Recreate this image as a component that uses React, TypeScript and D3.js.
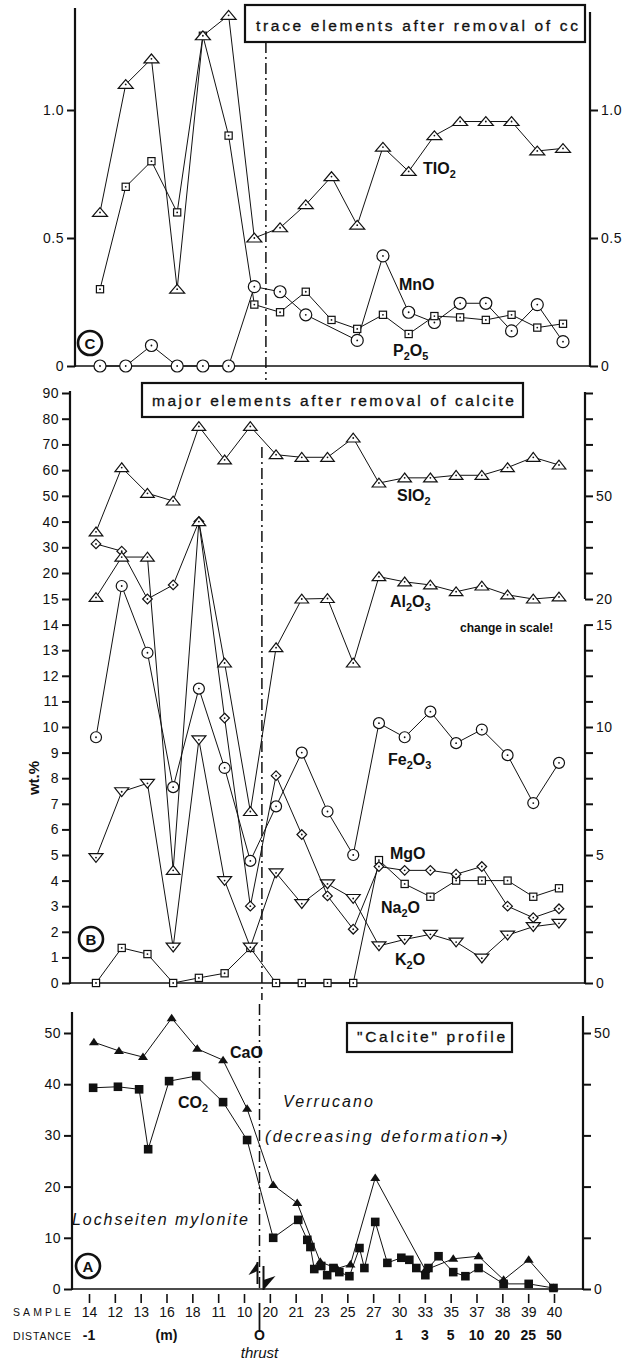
import React, { useEffect, useRef } from "react";
import * as d3 from "d3";

const W = 630;
const H = 1364;
const FONT = "'Liberation Sans', Arial, Helvetica, sans-serif";

// sample numbers along the profile, same order in all three panels
const samples = ["14", "12", "13", "16", "18", "11", "10", "20", "21", "23", "25", "27", "30", "33", "35", "37", "38", "39", "40"];
const samplePos = d3.range(samples.length);
const distanceLabels = ["-1", "(m)", "O", "1", "3", "5", "10", "20", "25", "50"];
const distancePos = [0, 3, 6.6, 12, 13, 14, 15, 16, 17, 18];
const thrustPos = 6.45;

// C: trace elements after removal of cc (wt.%)
const tio2 = [0.6, 1.1, 1.2, 0.3, 1.29, 1.37, 0.5, 0.54, 0.63, 0.74, 0.55, 0.855, 0.76, 0.9, 0.955, 0.955, 0.955, 0.84, 0.85];
const p2o5 = [0.3, 0.7, 0.8, 0.6, 1.29, 0.9, 0.24, 0.21, 0.29, 0.18, 0.145, 0.2, 0.125, 0.195, 0.19, 0.18, 0.2, 0.15, 0.165];
const mno = [0, 0, 0.08, 0, 0, 0, 0.31, 0.29, 0.2, null, 0.1, 0.43, 0.21, 0.17, 0.245, 0.245, 0.137, 0.24, 0.095];
const ticksC = [0, 0.5, 1];

// B: major elements after removal of calcite (wt.%, left-axis units)
const sio2 = [36, 61, 51, 48, 77, 64, 77, 66, 65, 65, 72.5, 55, 57, 57, 58, 58, 61, 65, 62];
const al2o3 = [15.3, 26.2, 26.2, 4.4, 40, 12.5, 6.7, 13.1, 15, 15.1, 12.5, 19.3, 18.3, 17.7, 16.4, 17.5, 15.8, 15, 15.4];
const fe2o3 = [9.6, 17.5, 12.9, 7.65, 11.5, 8.4, 4.77, 6.9, 9.0, 6.7, 5.0, 10.15, 9.6, 10.6, 9.37, 9.9, 8.9, 7.03, 8.6];
const na2o = [31.3, 28.5, 15, 17.7, 40, 10.35, 3.0, 8.1, 5.8, 3.4, 2.1, 4.55, 4.4, 4.4, 4.25, 4.55, 3.0, 2.55, 2.9];
const mgo = [0, 1.37, 1.13, 0, 0.2, 0.38, 1.37, 0, 0, 0, 0, 4.8, 3.87, 3.37, 4.0, 4.0, 4.0, 3.37, 3.7];
const k2o = [4.9, 7.47, 7.8, 1.4, 9.5, 4.0, 1.4, 4.3, 3.1, 3.87, 3.3, 1.45, 1.7, 1.9, 1.6, 0.97, 1.87, 2.2, 2.33];
const ticksB = [0, 1, 2, 3, 4, 5, 6, 7, 8, 9, 10, 11, 12, 13, 14, 15, 20, 30, 40, 50, 60, 70, 80, 90];
const rightLabelsB: Record<number, string> = { 50: "50", 15: "20", 14: "15", 10: "10", 5: "5", 0: "0" };

// A: "calcite" profile, more samples than ticks
const caoPos = [0.19, 1.16, 2.09, 3.2, 4.19, 5.19, 6.12, 7.13, 8.06, 8.95, 9.6, 10.12, 11.08, 13.02, 14.1, 15.08, 16.05, 17.02, 17.98];
const cao = [48.2, 46.5, 45.3, 52.9, 46.9, 44.7, 35.2, 20.3, 16.8, 5.3, 4.0, 4.8, 21.7, 3.7, 5.9, 6.4, 1.8, 5.7, 0.2];
const co2Pos = [0.16, 1.12, 1.94, 2.29, 3.1, 4.15, 5.19, 6.12, 7.13, 8.1, 8.45, 8.57, 8.72, 8.99, 9.22, 9.46, 9.69, 10.08, 10.47, 10.66, 11.08, 11.55, 12.09, 12.4, 12.67, 13.02, 13.14, 13.53, 14.1, 14.57, 15.08, 16.05, 17.02, 17.98];
const co2 = [39.3, 39.5, 39.0, 27.3, 40.6, 41.6, 36.5, 29.1, 10.0, 13.5, 9.6, 8.2, 3.9, 4.5, 2.7, 4.1, 3.3, 2.5, 8.0, 4.1, 13.1, 5.1, 6.1, 5.7, 4.1, 2.7, 4.1, 6.4, 3.3, 2.5, 4.1, 1.0, 1.0, 0.2];
const ticksA = [0, 10, 20, 30, 40, 50];

const ink = "#111";

export default function App() {
  const svgRef = useRef<SVGSVGElement>(null);

  useEffect(() => {
    if (!svgRef.current) return;
    const svg = d3.select(svgRef.current);
    svg.selectAll("*").remove();
    svg.append("rect").attr("width", W).attr("height", H).attr("fill", "#fff");

    const path = (g: any, d: string, w = 1, dash?: string) => {
      const p = g.append("path").attr("d", d).attr("fill", "none").attr("stroke", ink).attr("stroke-width", w);
      if (dash) p.attr("stroke-dasharray", dash);
      return p;
    };

    const marker = (g: any, kind: string, cx: number, cy: number) => {
      const m = g.append("g").attr("transform", `translate(${cx},${cy})`);
      const st = (s: any) => s.attr("fill", "#fff").attr("stroke", ink).attr("stroke-width", 1.2);
      if (kind === "fTri") { m.append("path").attr("d", "M0,-4.5L-5,3L5,3Z").attr("fill", ink); return; }
      if (kind === "fSq") { m.append("rect").attr("x", -4.3).attr("y", -4.3).attr("width", 8.6).attr("height", 8.6).attr("fill", ink); return; }
      if (kind === "tri") st(m.append("path").attr("d", "M0,-4.8L-7.5,4L7.5,4Z"));
      else if (kind === "triB") st(m.append("path").attr("d", "M0,-4.8L-6.8,4L6.8,4Z"));
      else if (kind === "triDown") st(m.append("path").attr("d", "M0,4.8L-7,-4L7,-4Z"));
      else if (kind === "sq") st(m.append("rect").attr("x", -3.6).attr("y", -3.6).attr("width", 7.2).attr("height", 7.2));
      else if (kind === "circ") st(m.append("circle").attr("r", 6));
      else if (kind === "circB") st(m.append("circle").attr("r", 5.5));
      else if (kind === "dia") st(m.append("path").attr("d", "M0,-4.8L4.8,0L0,4.8L-4.8,0Z"));
      m.append("circle").attr("r", 0.9).attr("fill", ink);
    };

    type S = { pos: number[]; vals: (number | null)[]; kind: string };
    const drawSeries = (g: any, x: any, y: any, list: S[]) => {
      const ln = d3.line<[number, number]>().x(d => x(d[0])).y(d => y(d[1]));
      const pts = list.map(s =>
        s.pos.map((p, i) => [p, s.vals[i]] as [number, number | null]).filter(d => d[1] != null) as [number, number][]
      );
      pts.forEach(p => path(g, ln(p) as string, 1));
      list.forEach((s, k) => pts[k].forEach(d => marker(g, s.kind, x(d[0]), y(d[1]))));
    };

    const chem = (g: any, x: number, y: number, label: string, size = 16) => {
      const t = g.append("text").attr("x", x).attr("y", y).attr("font-family", FONT)
        .attr("font-weight", "bold").attr("font-size", size).attr("fill", ink);
      let down = false;
      label.split(/(_\d)/).filter(s => s).forEach(s => {
        if (s[0] === "_") {
          t.append("tspan").attr("dy", 4).attr("font-size", size * 0.68).text(s.slice(1));
          down = true;
        } else {
          const ts = t.append("tspan").text(s);
          if (down) ts.attr("dy", -4);
          down = false;
        }
      });
    };

    const text = (g: any, x: number, y: number, s: string, o: any = {}) => {
      const t = g.append("text").attr("x", x).attr("y", y).attr("font-family", FONT)
        .attr("font-size", o.size ?? 14).attr("fill", ink).text(s);
      if (o.weight) t.attr("font-weight", o.weight);
      if (o.italic) t.attr("font-style", "italic");
      if (o.anchor) t.attr("text-anchor", o.anchor);
      if (o.len) t.attr("textLength", o.len).attr("lengthAdjust", "spacing");
      return t;
    };

    const titleBox = (g: any, x: number, y: number, w: number, h: number, s: string, tx: number, ty: number, len: number) => {
      g.append("rect").attr("x", x).attr("y", y).attr("width", w).attr("height", h)
        .attr("fill", "#fff").attr("stroke", ink).attr("stroke-width", 2.2);
      text(g, tx, ty, s, { size: 15.5, len }).attr("stroke", ink).attr("stroke-width", 0.3);
    };

    const tag = (g: any, cx: number, cy: number, letter: string) => {
      g.append("circle").attr("cx", cx).attr("cy", cy).attr("r", 12)
        .attr("fill", "#fff").attr("stroke", ink).attr("stroke-width", 2.6);
      text(g, cx, cy + 5.5, letter, { size: 15, weight: "bold", anchor: "middle" });
    };

    const yAxis = (g: any, scale: any, side: "left" | "right", x: number, values: number[], fmt: (d: number) => string) => {
      const ax = (side === "left" ? d3.axisLeft(scale) : d3.axisRight(scale))
        .tickValues(values).tickSize(8).tickSizeOuter(0).tickPadding(3).tickFormat(fmt as any);
      const a = g.append("g").attr("transform", `translate(${x},0)`).call(ax);
      a.select(".domain").remove();
      a.selectAll("line").attr("stroke", ink).attr("stroke-width", 2);
      a.selectAll("text").attr("font-family", FONT).attr("font-size", 14).attr("fill", ink).attr("letter-spacing", 0.5);
    };

    // ---------- panel C ----------
    const gC = svg.append("g");
    const xC = d3.scaleLinear().domain([0, 18]).range([100, 563]);
    const yC = d3.scaleLinear().domain([0, 1]).range([366, 110]);
    path(gC, `M${xC(thrustPos)},42V380`, 1.5, "11,4,2,4");
    path(gC, "M75,8V367", 2.2);
    path(gC, "M75,366H590", 1.5);
    path(gC, "M590,12V367", 2.2);
    yAxis(gC, yC, "left", 75, ticksC, d => (d === 0 ? "0" : d3.format(".1f")(d)));
    yAxis(gC, yC, "right", 590, ticksC, d => (d === 0 ? "0" : d3.format(".1f")(d)));
    drawSeries(gC, xC, yC, [
      { pos: samplePos, vals: mno, kind: "circ" },
      { pos: samplePos, vals: p2o5, kind: "sq" },
      { pos: samplePos, vals: tio2, kind: "tri" },
    ]);
    chem(gC, 423, 174, "TIO_2");
    chem(gC, 399, 290, "MnO");
    chem(gC, 393, 356, "P_2O_5");
    titleBox(gC, 245, 5, 340, 37, "trace elements after removal of cc", 256, 31, 322);
    tag(gC, 90, 343, "C");

    // ---------- panel B ----------
    const gB = svg.append("g");
    const xB = d3.scaleLinear().domain([0, 18]).range([96, 559]);
    const yB = d3.scaleLinear().domain([0, 15, 20, 90]).range([983, 599, 573, 393]);
    path(gB, `M${xB(thrustPos)},447V1000`, 1.5, "11,4,2,4");
    path(gB, "M70,391V984", 2.2);
    path(gB, "M70,983H585", 1.5);
    path(gB, `M585,${yB(90) - 1}V${yB(15)}`, 2.2);
    path(gB, `M585,${yB(14)}V984`, 2.2);
    yAxis(gB, yB, "left", 70, ticksB, d => String(d));
    yAxis(gB, yB, "right", 585, ticksB, d => rightLabelsB[d] ?? "");
    drawSeries(gB, xB, yB, [
      { pos: samplePos, vals: mgo, kind: "sq" },
      { pos: samplePos, vals: na2o, kind: "dia" },
      { pos: samplePos, vals: fe2o3, kind: "circB" },
      { pos: samplePos, vals: k2o, kind: "triDown" },
      { pos: samplePos, vals: al2o3, kind: "triB" },
      { pos: samplePos, vals: sio2, kind: "triB" },
    ]);
    chem(gB, 397, 501, "SIO_2");
    chem(gB, 390, 607, "Al_2O_3");
    text(gB, 460, 632, "change in scale!", { size: 12, weight: "bold" });
    chem(gB, 388, 765, "Fe_2O_3");
    chem(gB, 390, 859, "MgO");
    chem(gB, 381, 913, "Na_2O");
    chem(gB, 395, 965, "K_2O");
    text(gB, 0, 0, "wt.%", { size: 15, weight: "bold", anchor: "middle" })
      .attr("transform", "translate(39,778) rotate(-90)");
    titleBox(gB, 142, 383, 381, 34, "major elements after removal of calcite", 152, 406, 362);
    tag(gB, 91, 939, "B");

    // ---------- panel A ----------
    const gA = svg.append("g");
    const xA = d3.scaleLinear().domain([0, 18]).range([89, 554]);
    const yA = d3.scaleLinear().domain([0, 50]).range([1289, 1033]);
    const tx = xA(6.6);
    path(gA, `M${tx},1004V1289`, 1.5, "11,4,2,4");
    path(gA, `M${tx},1303V1332`, 1.8);
    path(gA, "M72,1012V1290", 2.2);
    path(gA, "M72,1289H583", 1.5);
    path(gA, "M583,1016V1290", 2.2);
    yAxis(gA, yA, "left", 72, ticksA, d => String(d));
    yAxis(gA, yA, "right", 583, ticksA, d => (d === 0 || d === 50 ? String(d) : ""));

    const sAx = d3.axisBottom(xA).tickValues(samplePos).tickSize(9).tickSizeOuter(0).tickPadding(4)
      .tickFormat((d: any) => samples[d]);
    const sa = gA.append("g").attr("transform", "translate(0,1294)").call(sAx);
    sa.select(".domain").remove();
    sa.selectAll("line").attr("stroke", ink).attr("stroke-width", 1.6);
    sa.selectAll("text").attr("font-family", FONT).attr("font-size", 14).attr("fill", ink);

    drawSeries(gA, xA, yA, [
      { pos: caoPos, vals: cao, kind: "fTri" },
      { pos: co2Pos, vals: co2, kind: "fSq" },
    ]);

    // thrust sense half arrows
    gA.append("path").attr("d", `M${tx - 2},1262L${tx - 11},1275L${tx - 2},1271Z`).attr("fill", ink);
    path(gA, `M${tx - 2},1262V1284`, 2);
    gA.append("path").attr("d", `M${tx + 4},1290L${tx + 16},1276L${tx + 4},1280Z`).attr("fill", ink);
    path(gA, `M${tx + 4},1266V1290`, 2);

    chem(gA, 230, 1058, "CaO");
    chem(gA, 178, 1108, "CO_2");
    text(gA, 283, 1107, "Verrucano", { size: 16, italic: true, len: 90 });
    const dec = text(gA, 265, 1142, "(decreasing deformation", { size: 16, italic: true })
      .attr("letter-spacing", 2.3);
    dec.append("tspan").attr("font-family", "'DejaVu Sans', sans-serif").attr("font-style", "normal")
      .attr("font-size", 14).attr("letter-spacing", 0).text("\u279C");
    dec.append("tspan").text(")");
    text(gA, 72, 1225, "Lochseiten mylonite", { size: 16, italic: true, len: 176 });
    titleBox(gA, 347, 1023, 165, 29, "\"Calcite\" profile", 357, 1042, 148);
    tag(gA, 88, 1266, "A");

    text(gA, 13, 1316, "SAMPLE", { size: 10.5, len: 58 });
    text(gA, 13, 1340, "DISTANCE", { size: 10.5, len: 58 });
    distanceLabels.forEach((s, i) =>
      text(gA, xA(distancePos[i]), 1340, s, { size: 14, weight: "bold", anchor: "middle" })
    );
    text(gA, tx, 1358, "thrust", { size: 15, italic: true, anchor: "middle" });
  }, []);

  return (
    <svg
      ref={svgRef}
      width={W}
      height={H}
      viewBox={`0 0 ${W} ${H}`}
      style={{ position: "absolute", left: 0, top: 0, display: "block" }}
    />
  );
}
